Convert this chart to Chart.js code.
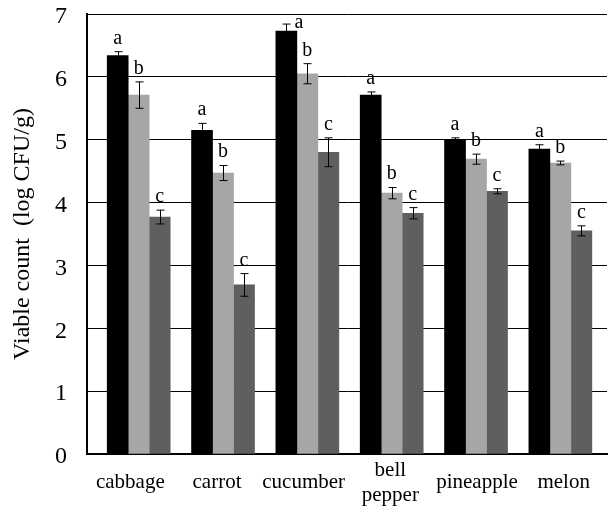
<!DOCTYPE html>
<html lang="en">
<head>
<meta charset="UTF-8">
<title>Viable count</title>
<script src="https://cdn.jsdelivr.net/npm/chart.js"></script>
<style>
  html, body { margin: 0; padding: 0; background: #fff; }
  #wrap { width: 608px; height: 508px; }
</style>
</head>
<body>
<div id="wrap"><canvas id="chart"></canvas></div>
<script>
// categories and values
const categories = ['cabbage', 'carrot', 'cucumber', ['bell', 'pepper'], 'pineapple', 'melon'];
const seriesA = [6.34, 5.15, 6.73, 5.71, 4.99, 4.85];
const errA    = [0.06, 0.11, 0.11, 0.05, 0.04, 0.07];
const seriesB = [5.71, 4.47, 6.05, 4.15, 4.69, 4.63];
const errB    = [0.21, 0.12, 0.16, 0.09, 0.08, 0.03];
const seriesC = [3.77, 2.69, 4.80, 3.83, 4.18, 3.55];
const errC    = [0.11, 0.18, 0.23, 0.09, 0.04, 0.08];
const lettersA = ['a', 'a', 'a', 'a', 'a', 'a'];
const lettersB = ['b', 'b', 'b', 'b', 'b', 'b'];
const lettersC = ['c', 'c', 'c', 'c', 'c', 'c'];
const yTicks = [0, 1, 2, 3, 4, 5, 6, 7];

const serif = '"Liberation Serif", "Times New Roman", serif';

function points(vals) {
  return vals.map((v, i) => ({ x: i, y: v }));
}

// error bars + significance letters
const errorBars = {
  id: 'errorBars',
  afterDatasetsDraw(chart) {
    const ctx = chart.ctx;
    const yScale = chart.scales.y;
    ctx.save();
    chart.data.datasets.forEach((ds, di) => {
      const meta = chart.getDatasetMeta(di);
      meta.data.forEach((bar, i) => {
        const v = ds.data[i].y;
        const e = ds.errors[i];
        const top = yScale.getPixelForValue(v + e);
        const bot = yScale.getPixelForValue(v - e);
        const x = Math.round(bar.x) + 0.5;
        ctx.strokeStyle = '#000';
        ctx.lineWidth = 1;
        ctx.beginPath();
        ctx.moveTo(x, top); ctx.lineTo(x, bot);
        ctx.moveTo(x - 4, top); ctx.lineTo(x + 4, top);
        ctx.moveTo(x - 4, bot); ctx.lineTo(x + 4, bot);
        ctx.stroke();

        ctx.font = '20px ' + serif;
        ctx.fillStyle = '#000';
        ctx.textBaseline = 'alphabetic';
        let lx = bar.x, ly = top - 8;
        ctx.textAlign = 'center';
        if (ly - 14 < chart.chartArea.top) { // no room above, put it beside
          lx = x + 8; ly = top + 4; ctx.textAlign = 'left';
        }
        ctx.fillText(ds.letters[i], lx, ly);
      });
    });
    ctx.restore();
  }
};

new Chart(document.getElementById('chart'), {
  type: 'bar',
  data: {
    labels: categories,
    datasets: [
      { data: points(seriesA), errors: errA, letters: lettersA, backgroundColor: '#000000', xAxisID: 'xb' },
      { data: points(seriesB), errors: errB, letters: lettersB, backgroundColor: '#a6a6a6', xAxisID: 'xb' },
      { data: points(seriesC), errors: errC, letters: lettersC, backgroundColor: '#5f5f5f', xAxisID: 'xb' }
    ]
  },
  options: {
    responsive: true,
    maintainAspectRatio: false,
    animation: false,
    layout: { padding: { top: 0, right: 1, left: 0, bottom: 0 } },
    barThickness: 21,
    plugins: { legend: { display: false }, tooltip: { enabled: false } },
    scales: {
      x: {
        type: 'category',
        offset: true,
        grid: { display: false },
        border: { color: '#000', width: 2 },
        ticks: { color: '#000', font: { family: serif, size: 21 }, padding: 8, crossAlign: 'center', maxRotation: 0, autoSkip: false },
        afterFit(scale) { scale.height = 54; }
      },
      xb: {
        type: 'linear',
        axis: 'x',
        display: false,
        offset: false,
        min: -0.613,
        max: 5.553
      },
      y: {
        min: 0,
        max: 7,
        afterBuildTicks(scale) { scale.ticks = yTicks.map(v => ({ value: v })); },
        grid: { color: '#000', lineWidth: 1, drawTicks: false },
        border: { color: '#000', width: 2 },
        ticks: { color: '#000', font: { family: serif, size: 24 }, padding: 20, labelOffset: 3 },
        title: {
          display: true,
          text: 'Viable count  (log CFU/g)',
          color: '#000',
          font: { family: serif, size: 24 },
          padding: { top: 8, bottom: 0 }
        },
        afterFit(scale) {
          scale.width = 87;
          scale.paddingTop = 14;
          scale.paddingBottom = 0;
        }
      }
    }
  },
  plugins: [errorBars]
});
</script>
</body>
</html>
